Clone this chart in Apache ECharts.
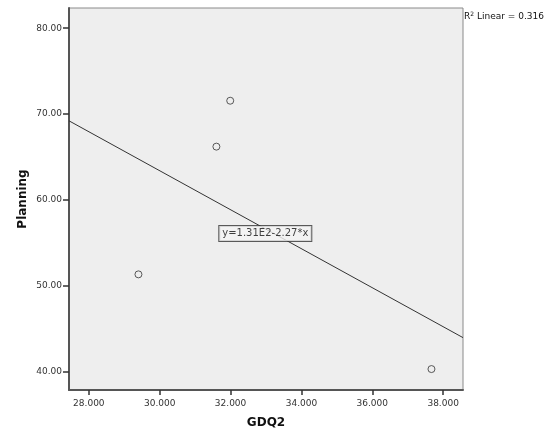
<!DOCTYPE html>
<html><head><meta charset="utf-8">
<script src="https://cdn.jsdelivr.net/npm/echarts@6/dist/echarts.min.js"></script>
<style>html,body{margin:0;padding:0;background:#fff}#c{width:552px;height:434px}</style>
</head><body><div id="c"></div>
<script>
const gdq2 = [31.60, 31.99, 29.40, 37.67];
const planning = [66.2, 71.55, 51.31, 40.27];
const xTicks = [28, 30, 32, 34, 36, 38];
const yTicks = [40, 50, 60, 70, 80];
const xRange = [27.44, 38.56];
const yRange = [37.83, 82.36];
const eqText = 'y=1.31E2-2.27*x';
const r2Text = '0.316';

// least squares fit
const n = gdq2.length;
const mx = gdq2.reduce((a,b)=>a+b,0)/n, my = planning.reduce((a,b)=>a+b,0)/n;
let sxy=0, sxx=0;
for (let i=0;i<n;i++){ sxy += (gdq2[i]-mx)*(planning[i]-my); sxx += (gdq2[i]-mx)**2; }
const slope = sxy/sxx, icpt = my - slope*mx;
const fitLine = xRange.map(x => [x, icpt + slope*x]);
const eqX = 32.98;
const eqPoint = [[eqX, icpt + slope*eqX - 0.55]];

const chart = echarts.init(document.getElementById('c'));
const font = 'DejaVu Sans';
chart.setOption({
  animation: false,
  grid: {left: 69, top: 8, width: 394, height: 383, show: true, backgroundColor: '#eeeeee', borderColor: '#8a8a8a', borderWidth: 1},
  xAxis: {
    type: 'value', min: xRange[0], max: xRange[1],
    name: 'GDQ2', nameLocation: 'middle', nameGap: 27,
    nameTextStyle: {fontFamily: font, fontWeight: 'bold', fontSize: 12, color: '#111'},
    axisLine: {show: true, lineStyle: {color: '#555', width: 2}},
    axisTick: {show: true, length: 5, customValues: xTicks, lineStyle: {color: '#333', width: 1.5}},
    axisLabel: {customValues: xTicks, formatter: v => v.toFixed(3), fontFamily: font, fontSize: 9, color: '#333', margin: 9},
    splitLine: {show: false}
  },
  yAxis: {
    type: 'value', min: yRange[0], max: yRange[1],
    name: 'Planning', nameLocation: 'middle', nameGap: 40, nameMoveOverlap: false,
    nameTextStyle: {fontFamily: font, fontWeight: 'bold', fontSize: 12, color: '#111'},
    axisLine: {show: true, lineStyle: {color: '#555', width: 2}},
    axisTick: {show: true, length: 6, customValues: yTicks, lineStyle: {color: '#333', width: 1.5}},
    axisLabel: {customValues: yTicks, formatter: v => v.toFixed(2), fontFamily: font, fontSize: 9, color: '#333', margin: 7},
    splitLine: {show: false}
  },
  series: [
    {type: 'line', data: fitLine, symbol: 'none', lineStyle: {color: '#333', width: 1}, z: 2},
    {type: 'scatter', data: gdq2.map((x,i)=>[x, planning[i]]), symbol: 'circle', symbolSize: 7,
     itemStyle: {color: 'rgba(0,0,0,0)', borderColor: '#333', borderWidth: 1}, z: 3},
    {type: 'scatter', data: eqPoint, symbolSize: 0, z: 4,
     label: {show: true, position: 'inside', formatter: eqText, fontFamily: font, fontSize: 10, color: '#111',
       backgroundColor: '#f4f4f4', borderColor: '#333', borderWidth: 1, padding: [3, 3, 2, 3]}}
  ],
  graphic: [{
    type: 'text', left: 464, top: 11,
    style: {text: '{a|R}{s|2}{a| Linear = ' + r2Text + '}',
      rich: {a: {fontFamily: font, fontSize: 9, fill: '#111'}, s: {fontFamily: font, fontSize: 6, fill: '#111', verticalAlign: 'top', padding: [0,0,6,0]}}}
  }]
});
</script></body></html>
